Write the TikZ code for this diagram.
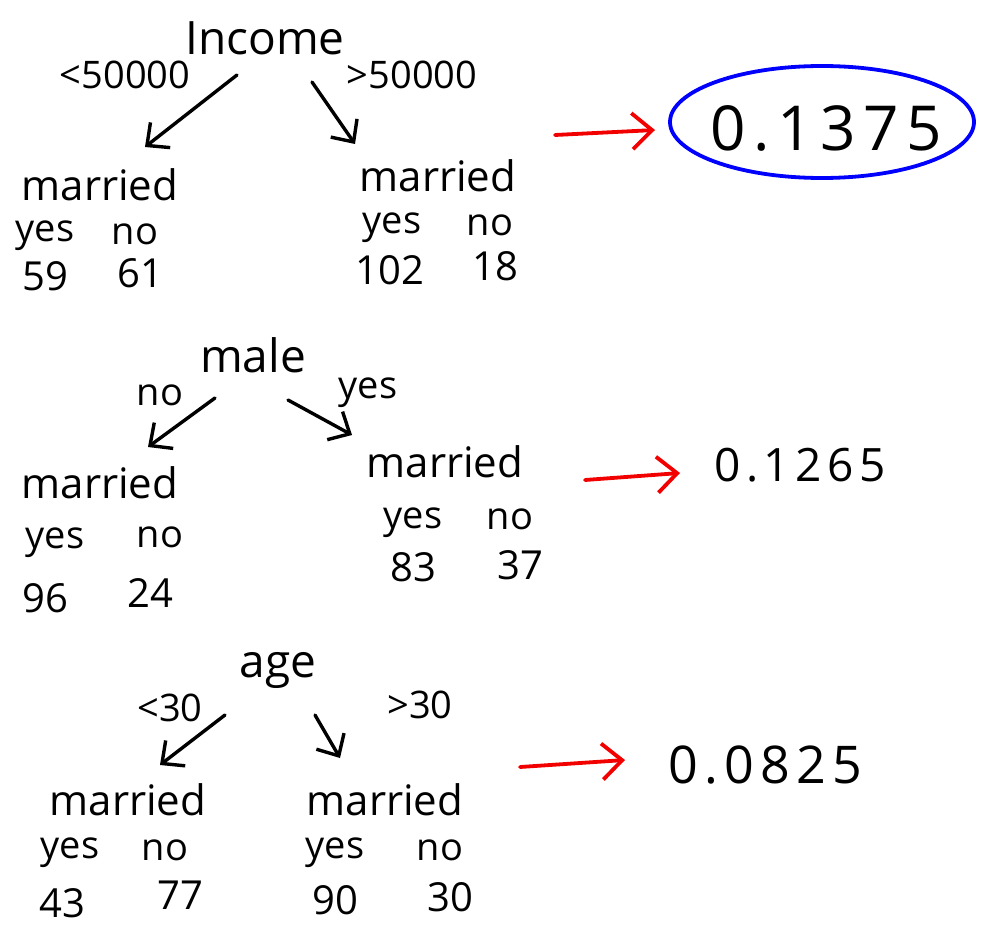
\documentclass[tikz,border=0pt]{standalone}
\usepackage{fontspec}
\setmainfont{Open Sans}
\newfontfamily\scorefont{Open Sans}[LetterSpace=12]
\usetikzlibrary{arrows.meta}

\tikzset{
  word/.style={inner sep=0pt, font=\fontsize{38}{40}\selectfont},
  attr/.style={inner sep=0pt, font=\fontsize{46}{48}\selectfont},
  leaf/.style={inner sep=0pt, font=\fontsize{42}{44}\selectfont},
  count/.style={inner sep=0pt, font=\fontsize{40}{42}\selectfont},
  score/.style={inner sep=0pt, font=\scorefont\fontsize{#1}{#1}\selectfont},
  branch/.style={line width=3.4pt, line cap=round, -{Straight Barb[length=17pt,width=32pt,line width=3.4pt]}},
  push/.style={red!95!black, line width=3.8pt, line cap=round, -{Straight Barb[length=20pt,width=36pt,line width=3.8pt]}}
}

\begin{document}
\begin{tikzpicture}[x=1pt, y=-1pt]
	\useasboundingbox (0,0) rectangle (1002,942);
	% income
	\node[attr] (inc) at (265,38) {Income};
	\node[word] (lo1) at (125,75) {<50000};
	\node[word] (hi1) at (412,75) {>50000};
	\node[leaf] (mL1) at (100,185) {married};
	\node[word] (yL1) at (45,236) {yes};
	\node[word] (nL1) at (135,234) {no};
	\node[count] (cyL1) at (45,276) {59};
	\node[count] (cnL1) at (140,273) {61};
	\node[leaf] (mR1) at (438,176) {married};
	\node[word] (yR1) at (392,228) {yes};
	\node[word] (nR1) at (490,225) {no};
	\node[count] (cyR1) at (390,270) {102};
	\node[count] (cnR1) at (495,266) {18};
	\draw[branch] ([shift={(-28,37)}]inc.center) -- ([shift={(45,-38)}]mL1.center);
	\draw[branch] ([shift={(47,44)}]inc.center) -- ([shift={(-83,-32)}]mR1.center);
	\node[score=62] (s1) at (826,128) {0.1375};
	\draw[blue, line width=3.8pt] ([shift={(-4,-6)}]s1.center) ellipse [x radius=152, y radius=56];
	\coordinate (r1) at (555,135);
	\draw[push] (r1) -- ([shift={(-171,2)}]s1.center);
	% male
	\node[attr] (sex) at (253,355) {male};
	\node[word] (lo2) at (160,395) {no};
	\node[word] (hi2) at (368,393) {yes};
	\node[leaf] (mL2) at (100,483) {married};
	\node[word] (yL2) at (55,543) {yes};
	\node[word] (nL2) at (160,537) {no};
	\node[count] (cyL2) at (45,598) {96};
	\node[count] (cnL2) at (150,593) {24};
	\node[leaf] (mR2) at (445,462) {married};
	\node[word] (yR2) at (413,523) {yes};
	\node[word] (nR2) at (510,519) {no};
	\node[count] (cyR2) at (413,567) {83};
	\node[count] (cnR2) at (520,565) {37};
	\draw[branch] ([shift={(-38,43)}]sex.center) -- ([shift={(48,-36)}]mL2.center);
	\draw[branch] ([shift={(35,45)}]sex.center) -- ([shift={(-93,-27)}]mR2.center);
	\node[score=46] (s2) at (800,465) {0.1265};
	\coordinate (r2) at (585,480);
	\draw[push] (r2) -- ([shift={(-120,8)}]s2.center);
	% age
	\node[attr] (age) at (278,670) {age};
	\node[word] (lo3) at (170,708) {<30};
	\node[word] (hi3) at (420,705) {>30};
	\node[leaf] (mL3) at (128,800) {married};
	\node[word] (yL3) at (70,853) {yes};
	\node[word] (nL3) at (165,850) {no};
	\node[count] (cyL3) at (62,903) {43};
	\node[count] (cnL3) at (180,895) {77};
	\node[leaf] (mR3) at (385,800) {married};
	\node[word] (yR3) at (335,853) {yes};
	\node[word] (nR3) at (440,850) {no};
	\node[count] (cyR3) at (335,900) {90};
	\node[count] (cnR3) at (450,897) {30};
	\draw[branch] ([shift={(-53,45)}]age.center) -- ([shift={(32,-35)}]mL3.center);
	\draw[branch] ([shift={(37,45)}]age.center) -- ([shift={(-45,-42)}]mR3.center);
	\node[score=52] (s3) at (765,765) {0.0825};
	\coordinate (r3) at (520,767);
	\draw[push] (r3) -- ([shift={(-140,-5)}]s3.center);
\end{tikzpicture}
\end{document}
